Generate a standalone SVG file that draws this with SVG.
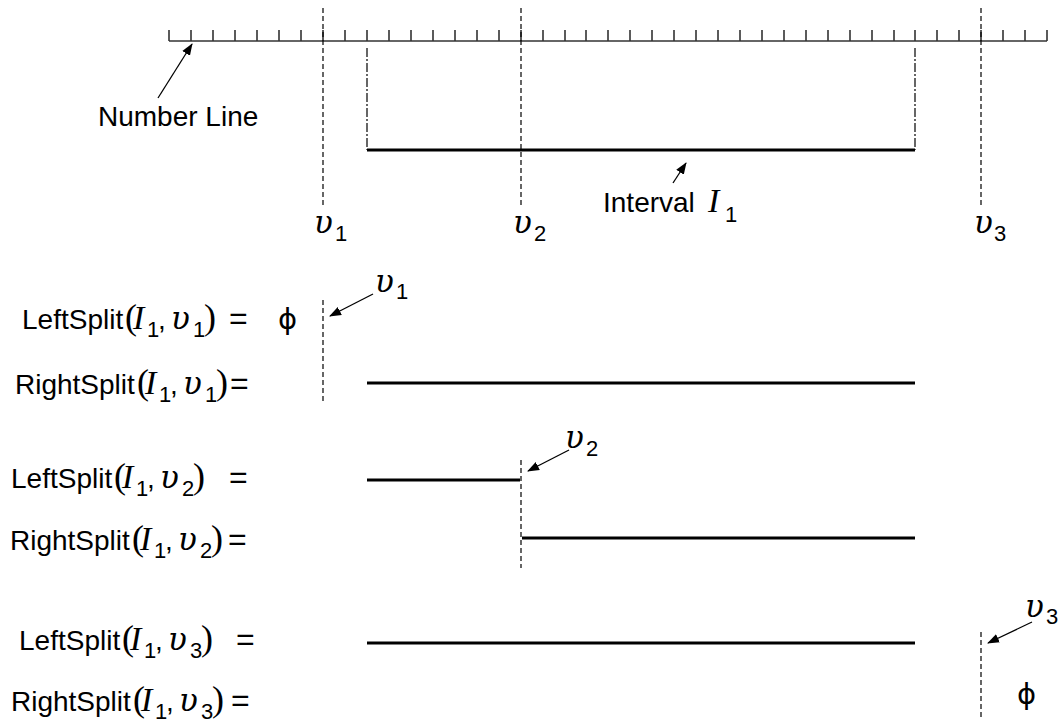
<svg xmlns="http://www.w3.org/2000/svg" width="1061" height="722" viewBox="0 0 1061 722">
<defs>
<marker id="ah" viewBox="0 0 12 10" refX="11" refY="5" markerWidth="12" markerHeight="10" markerUnits="userSpaceOnUse" orient="auto">
<path d="M0,0.5 L12,5 L0,9.5 z" fill="#000"/>
</marker>
</defs>
<style>
text{font-family:"Liberation Sans",Arial,sans-serif;font-size:28px;fill:#000}
.s{font-size:22px}
.m{font-family:"Liberation Serif","DejaVu Serif",serif;font-style:italic;font-size:34px}
.u{font-family:"DejaVu Serif","Liberation Serif",serif;font-style:italic;font-size:31px}
.p{font-family:"Liberation Serif","DejaVu Serif",serif;font-size:36px}
.eq{font-size:32px}
.phi{font-family:"DejaVu Sans","Liberation Sans",sans-serif;font-size:29px}
.dash{stroke:#000;stroke-width:1.2;stroke-dasharray:5 3;fill:none}
.dd{stroke:#000;stroke-width:1.2;stroke-dasharray:9 2 2 2;fill:none}
.seg{stroke:#000;stroke-width:3;fill:none}
.arr{stroke:#000;stroke-width:1.3;fill:none;marker-end:url(#ah)}
.nl{stroke:#333;stroke-width:1.6;fill:none}
</style>

<g id="number-line">
<line class="nl" x1="169" y1="41" x2="1047" y2="41"/>
<path class="nl" d="M169,30V41M191,30V41M213,30V41M235,30V41M257,30V41M279,30V41M301,30V41M323,30V41M345,30V41M367,30V41M389,30V41M411,30V41M433,30V41M455,30V41M477,30V41M499,30V41M521,30V41M543,30V41M565,30V41M586,30V41M608,30V41M630,30V41M652,30V41M674,30V41M696,30V41M718,30V41M740,30V41M762,30V41M784,30V41M806,30V41M828,30V41M850,30V41M872,30V41M894,30V41M915,30V41M937,30V41M959,30V41M981,30V41M1003,30V41M1025,30V41M1047,30V41"/>
<text x="98" y="126">Number Line</text>
</g>

<g id="interval">
<line class="dd" x1="367" y1="48" x2="367" y2="150"/>
<line class="dd" x1="915" y1="48" x2="915" y2="150"/>
<line class="seg" x1="367" y1="150" x2="915" y2="150"/>
<text x="603" y="212">Interval<tspan class="m" x="708" y="212">I</tspan><tspan class="s" x="725" y="222">1</tspan></text>
</g>

<g id="values">
<line class="dash" x1="323" y1="8" x2="323" y2="205"/>
<line class="dash" x1="521" y1="8" x2="521" y2="205"/>
<line class="dash" x1="981" y1="8" x2="981" y2="205"/>
<text><tspan class="u" x="314" y="233">υ</tspan><tspan class="s" x="335" y="241">1</tspan></text>
<text><tspan class="u" x="513" y="233">υ</tspan><tspan class="s" x="534" y="241">2</tspan></text>
<text><tspan class="u" x="974" y="233">υ</tspan><tspan class="s" x="994" y="241">3</tspan></text>
</g>

<g id="row1-left">
<text x="22" y="329">LeftSplit<tspan class="p" x="125">(</tspan><tspan class="m" x="133">I</tspan><tspan class="s" x="147" y="337">1</tspan><tspan x="158" y="329">,</tspan><tspan class="u" x="171">υ</tspan><tspan class="s" x="193" y="337">1</tspan><tspan class="p" x="204" y="329">)</tspan><tspan class="eq" x="229">=</tspan><tspan class="phi" x="278">ϕ</tspan></text>
<line class="dash" x1="323" y1="300" x2="323" y2="403"/>
<text><tspan class="u" x="375" y="292">υ</tspan><tspan class="s" x="396" y="299">1</tspan></text>
</g>

<g id="row1-right">
<text x="15" y="394">RightSplit<tspan class="p" x="137">(</tspan><tspan class="m" x="145">I</tspan><tspan class="s" x="159" y="402">1</tspan><tspan x="170" y="394">,</tspan><tspan class="u" x="183">υ</tspan><tspan class="s" x="205" y="402">1</tspan><tspan class="p" x="216" y="394">)</tspan><tspan class="eq" x="230">=</tspan></text>
<line class="seg" x1="367" y1="383" x2="915" y2="383"/>
</g>

<g id="row2-left">
<text x="11" y="488">LeftSplit<tspan class="p" x="114">(</tspan><tspan class="m" x="122">I</tspan><tspan class="s" x="136" y="496">1</tspan><tspan x="147" y="488">,</tspan><tspan class="u" x="160">υ</tspan><tspan class="s" x="182" y="496">2</tspan><tspan class="p" x="193" y="488">)</tspan><tspan class="eq" x="229">=</tspan></text>
<line class="seg" x1="367" y1="480" x2="520" y2="480"/>
<line class="dash" x1="521" y1="460" x2="521" y2="568"/>
<text><tspan class="u" x="565" y="448">υ</tspan><tspan class="s" x="586" y="456">2</tspan></text>
</g>

<g id="row2-right">
<text x="10" y="550">RightSplit<tspan class="p" x="132">(</tspan><tspan class="m" x="140">I</tspan><tspan class="s" x="154" y="558">1</tspan><tspan x="165" y="550">,</tspan><tspan class="u" x="178">υ</tspan><tspan class="s" x="200" y="558">2</tspan><tspan class="p" x="211" y="550">)</tspan><tspan class="eq" x="228">=</tspan></text>
<line class="seg" x1="522" y1="538" x2="915" y2="538"/>
</g>

<g id="row3-left">
<text x="19" y="650">LeftSplit<tspan class="p" x="122">(</tspan><tspan class="m" x="130">I</tspan><tspan class="s" x="144" y="658">1</tspan><tspan x="155" y="650">,</tspan><tspan class="u" x="168">υ</tspan><tspan class="s" x="190" y="658">3</tspan><tspan class="p" x="201" y="650">)</tspan><tspan class="eq" x="236">=</tspan></text>
<line class="seg" x1="367" y1="643" x2="915" y2="643"/>
<line class="dash" x1="981" y1="632" x2="981" y2="720"/>
<text><tspan class="u" x="1025" y="617">υ</tspan><tspan class="s" x="1046" y="624">3</tspan></text>
</g>

<g id="row3-right">
<text x="11" y="711">RightSplit<tspan class="p" x="133">(</tspan><tspan class="m" x="141">I</tspan><tspan class="s" x="155" y="719">1</tspan><tspan x="166" y="711">,</tspan><tspan class="u" x="179">υ</tspan><tspan class="s" x="201" y="719">3</tspan><tspan class="p" x="212" y="711">)</tspan><tspan class="eq" x="231">=</tspan></text>
<text class="phi" x="1017" y="704">ϕ</text>
</g>

<g id="connectors">
<line class="arr" x1="158" y1="98" x2="192" y2="44"/>
<line class="arr" x1="673" y1="183" x2="686" y2="163"/>
<line class="arr" x1="373" y1="294" x2="330" y2="316"/>
<line class="arr" x1="569" y1="450" x2="528" y2="471"/>
<line class="arr" x1="1032" y1="622" x2="988" y2="643"/>
</g>
</svg>
